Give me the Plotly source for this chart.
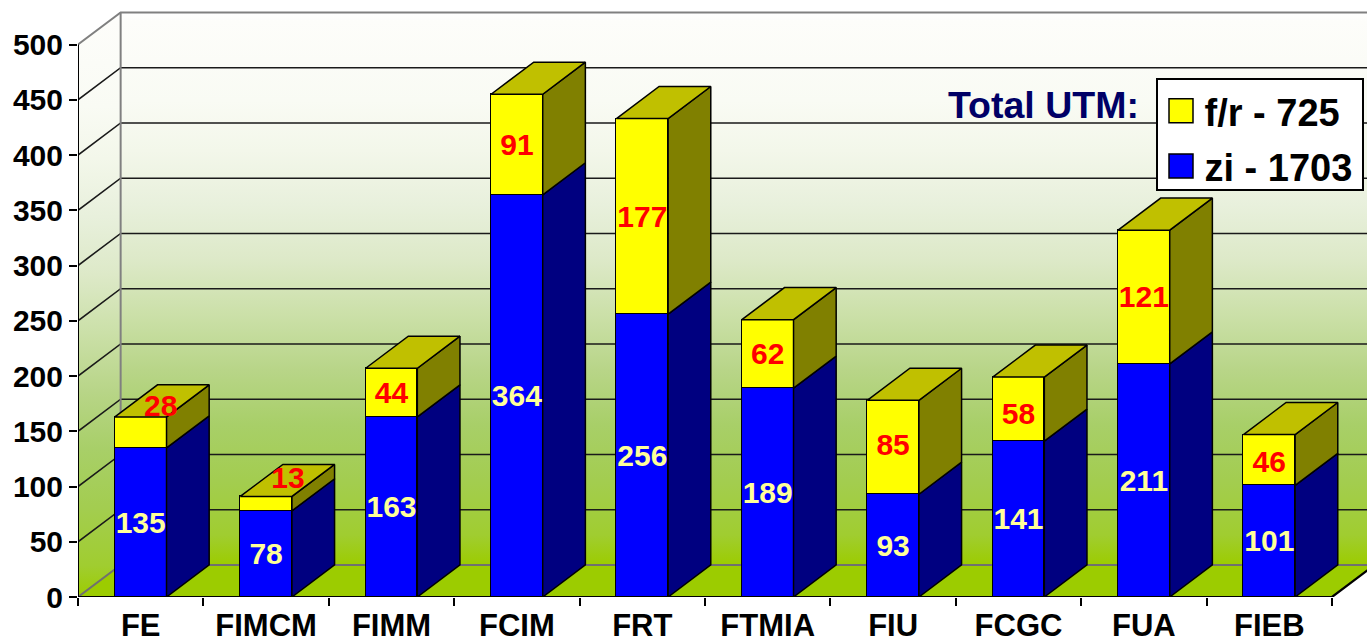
import plotly.graph_objects as go

categories = ["FE", "FIMCM", "FIMM", "FCIM", "FRT", "FTMIA", "FIU", "FCGC", "FUA", "FIEB"]
zi_values = [135, 78, 163, 364, 256, 189, 93, 141, 211, 101]
fr_values = [28, 13, 44, 91, 177, 62, 85, 58, 121, 46]
y_ticks = list(range(0, 501, 50))

BAR_W = 0.412
DX, DY = 0.34, 29
YMAX = 500
X0, X1 = -0.5, 9.5
XR = [-0.5, -0.5 + 1289 / 125.4]
YR = [0, 597 / 1.105]
LABEL_DROP = 2.5
NUDGE = {"FE": (0.16, 24), "FIMCM": (0.175, 23), "FIU": (0, 2), "FCGC": (0, -4.5), "FIEB": (0, -2)}

tops = [a + b for a, b in zip(zi_values, fr_values)]
WALL_SCALE = [[0, "#9ccc00"], [0.054, "#a0cd30"], [0.154, "#a3cd50"], [0.253, "#a8cf68"],
              [0.353, "#b8d588"], [0.452, "#cbe0a8"], [0.552, "#dde9c8"], [0.651, "#e8f0dc"],
              [0.75, "#f3f7ea"], [0.84, "#f9fbf4"], [0.985, "#fdfdfa"], [1, "#ffffff"]]

fig = go.Figure()

def poly(xs, ys, color, line="black", width=1.5, axes=("x2", "y2"), **kw):
    fig.add_trace(go.Scatter(x=xs, y=ys, mode="lines", fill="toself", fillcolor=color,
                             line=dict(color=line, width=width), showlegend=False,
                             hoverinfo="skip", xaxis=axes[0], yaxis=axes[1], **kw))

def lines(xs, ys, color, width):
    fig.add_trace(go.Scatter(x=xs, y=ys, mode="lines", line=dict(color=color, width=width),
                             showlegend=False, hoverinfo="skip", xaxis="x", yaxis="y"))

base = ("x", "y")
grad = dict(type="vertical", colorscale=WALL_SCALE)
# walls
fig.add_trace(go.Scatter(x=[X0 + DX, X1 + DX, X1 + DX, X0 + DX, X0 + DX],
                         y=[DY, DY, YMAX + DY, YMAX + DY, DY], mode="lines", fill="toself",
                         fillgradient=grad, line=dict(width=0, color="rgba(0,0,0,0)"),
                         showlegend=False, hoverinfo="skip", xaxis="x", yaxis="y"))
fig.add_trace(go.Scatter(x=[X0, X0 + DX, X0 + DX, X0, X0],
                         y=[0, DY, YMAX + DY, YMAX, 0], mode="lines", fill="toself",
                         fillgradient=grad, line=dict(width=0, color="rgba(0,0,0,0)"),
                         showlegend=False, hoverinfo="skip", xaxis="x", yaxis="y"))
# floor
poly([X0, X1, X1 + DX, X0 + DX, X0], [0, 0, DY, DY, 0], "#9ccc00", line="rgba(0,0,0,0)", width=0, axes=base)
# grid on walls
gx, gy = [], []
for v in y_ticks[1:-1]:
    gx += [X0, X0 + DX, X1 + DX, None]
    gy += [v, v + DY, v + DY, None]
lines(gx, gy, "#1a1a1a", 1.6)
# grey wall edges
lines([X0, X0 + DX, X1 + DX], [YMAX, YMAX + DY, YMAX + DY], "#808080", 2)
lines([X0 + DX, X0 + DX], [DY, YMAX + DY], "#808080", 2)
lines([X0, X0 + DX, X1 + DX], [0, DY, DY], "#707070", 2)
# axis lines and floor right edge
lines([X0, X0], [0, YMAX], "black", 2)
lines([X1 + DX, X1, X0], [DY, 0, 0], "black", 2.2)

# stacked front faces
mk = lambda c: dict(color=c, line=dict(color="black", width=1.5))
xpos = list(range(len(categories)))
fig.add_trace(go.Bar(x=xpos, y=zi_values, width=BAR_W, name="zi - 1703", marker=mk("#0000ff"),
                     legendgroup="zi", legendrank=2, xaxis="x2", yaxis="y2", hoverinfo="skip"))
fig.add_trace(go.Bar(x=xpos, y=fr_values, width=BAR_W, name="f/r - 725", marker=mk("#ffff00"),
                     legendgroup="fr", legendrank=1, xaxis="x2", yaxis="y2", hoverinfo="skip"))

# side and top faces
sbx, sby, syx, syy, tx, ty = [], [], [], [], [], []
for i in xpos:
    r = i + BAR_W / 2
    l = i - BAR_W / 2
    z, t = zi_values[i], tops[i]
    sbx += [r, r + DX, r + DX, r, r, None]
    sby += [0, DY, z + DY, z, 0, None]
    syx += [r, r + DX, r + DX, r, r, None]
    syy += [z, z + DY, t + DY, t, z, None]
    tx += [l, r, r + DX, l + DX, l, None]
    ty += [t, t, t + DY, t + DY, t, None]
poly(sbx, sby, "#000080")
poly(syx, syy, "#808000")
poly(tx, ty, "#c0c000")

# data labels
fs = dict(family="Liberation Sans", size=30)
fig.add_trace(go.Scatter(x=xpos, y=[v / 2 - LABEL_DROP for v in zi_values], mode="text",
                         text=[str(v) for v in zi_values], textposition="middle center",
                         textfont=dict(color="#ffff99", weight="bold", **fs),
                         showlegend=False, hoverinfo="skip", xaxis="x2", yaxis="y2"))
fr_x = [i + NUDGE.get(c, (0, 0))[0] for i, c in enumerate(categories)]
fr_y = [zi_values[i] + fr_values[i] / 2 + NUDGE.get(c, (0, 0))[1] - LABEL_DROP
        for i, c in enumerate(categories)]
fig.add_trace(go.Scatter(x=fr_x, y=fr_y, mode="text",
                         text=[str(v) for v in fr_values], textposition="middle center",
                         textfont=dict(color="#ff0000", weight="bold", **fs),
                         showlegend=False, hoverinfo="skip", xaxis="x2", yaxis="y2"))

tick_font = dict(family="Liberation Sans", size=30, color="black", weight="bold")
fig.update_layout(
    width=1367, height=643, margin=dict(l=78, r=0, t=0, b=46, autoexpand=False),
    paper_bgcolor="white", plot_bgcolor="white",
    barmode="stack", bargap=0,
    showlegend=True,
    xaxis=dict(range=XR, tickmode="array", tickvals=xpos, ticktext=categories, ticks="",
               showgrid=False, zeroline=False, showline=False, ticklabelstandoff=7,
               automargin=False, tickfont=dict(tick_font, size=31),
               minor=dict(tickmode="array", tickvals=[i - 0.5 for i in range(len(categories) + 1)],
                          ticks="outside", ticklen=8, tickwidth=1.5, tickcolor="black", showgrid=False)),
    yaxis=dict(range=YR, tickmode="array", tickvals=y_ticks, ticks="outside", ticklen=8,
               tickwidth=2, tickcolor="black", showgrid=False, zeroline=False, showline=False,
               automargin=False, tickfont=tick_font),
    xaxis2=dict(range=XR, overlaying="x", visible=False),
    yaxis2=dict(range=YR, overlaying="y", visible=False),
    legend=dict(x=(1156 - 78) / 1289, xanchor="left", y=1 - 78 / 597, yanchor="top",
                bgcolor="white", bordercolor="black", borderwidth=1.5,
                font=dict(family="Liberation Sans", size=38, color="black", weight="bold"),
                traceorder="grouped", tracegroupgap=3, itemwidth=37),
    annotations=[dict(text="<b>Total UTM:</b>", xref="paper", yref="paper",
                      x=(1141 - 78) / 1289, y=1 - 105 / 597, xanchor="right", yanchor="middle",
                      showarrow=False, font=dict(family="Liberation Sans", size=37.5, color="#000066"))],
)

CSS = (".legend .legendpoints path{d:path('M12,12H-12V-12H12Z');}"
       ".legend rect.bg{width:206px;height:111px;}")
fig.write_html("out.html", config={"displayModeBar": False}, post_script=(
    "document.body.style.margin='0';"
    "var s=document.createElement('style');s.textContent=\"" + CSS + "\";document.head.appendChild(s);"))
